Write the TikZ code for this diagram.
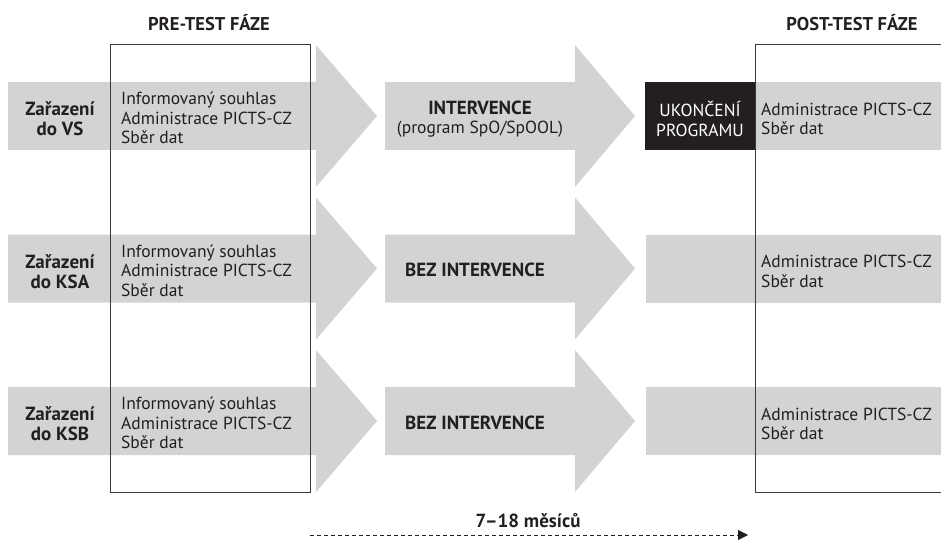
\documentclass[tikz,border=0pt]{standalone}
\usepackage{fontspec}
\setmainfont{PT Sans}
\usetikzlibrary{arrows.meta}
\definecolor{bandgray}{HTML}{D1D3D4}
\definecolor{ink}{HTML}{231F20}
\definecolor{boxline}{HTML}{3A3A3A}
\begin{document}
\begin{tikzpicture}[x=1pt,y=-1pt,
  band/.style={fill=bandgray,draw=none},
  phasebox/.style={draw=boxline,line width=1pt},
  txt/.style={text=ink,font=\fontsize{17.5}{19.5}\selectfont,inner sep=0pt},
  lbl/.style={txt,align=center,font=\fontsize{19}{20}\selectfont\bfseries},
  lefttxt/.style={txt,align=left,anchor=west},
  title/.style={txt,font=\fontsize{18.5}{20}\selectfont\bfseries}]
\useasboundingbox (0,0) rectangle (941,540);
% arrows
\foreach \c in {116,268.5,421}{
  \fill[band] (8,\c-34) -- (316,\c-34) -- (316,\c-71) -- (377,\c) -- (316,\c+71) -- (316,\c+34) -- (8,\c+34) -- cycle;
  \fill[band] (385,\c-34) -- (575,\c-34) -- (575,\c-71) -- (635,\c) -- (575,\c+71) -- (575,\c+34) -- (385,\c+34) -- cycle;
}
\fill[band] (755,82) rectangle (941,150);
\fill[band] (646,234.5) rectangle (941,302.5);
\fill[band] (646,387) rectangle (941,455);
\fill[ink] (645,82) rectangle (755,150);
% phase boxes
\draw[phasebox] (110,45) rectangle (310,492);
\draw[phasebox] (755,45) rectangle (950,492);
% titles
\node[title] (pre) at (209,23) {PRE-TEST FÁZE};
\node[title] (post) at (852,23) {POST-TEST FÁZE};
% row 1
\node[lbl] (z1) at (60,119) {Zařazení\\do VS};
\node[lefttxt] (p1) at (121,118) {Informovaný souhlas\\Administrace PICTS-CZ\\Sběr dat};
\node[txt,align=center] (i1) at (480,119) {{\fontsize{19}{20}\selectfont\bfseries INTERVENCE}\\(program SpO/SpOOL)};
\node[txt,align=center,text=white] (u1) at (700,119) {UKONČENÍ\\PROGRAMU};
\node[lefttxt] (q1) at (761,119) {Administrace PICTS-CZ\\Sběr dat};
% row 2
\node[lbl] (z2) at (60,271.5) {Zařazení\\do KSA};
\node[lefttxt] (p2) at (121,270.5) {Informovaný souhlas\\Administrace PICTS-CZ\\Sběr dat};
\node[lbl] (i2) at (475,270) {BEZ INTERVENCE};
\node[lefttxt] (q2) at (761,271.5) {Administrace PICTS-CZ\\Sběr dat};
% row 3
\node[lbl] (z3) at (60,424) {Zařazení\\do KSB};
\node[lefttxt] (p3) at (121,423) {Informovaný souhlas\\Administrace PICTS-CZ\\Sběr dat};
\node[lbl] (i3) at (475,422.5) {BEZ INTERVENCE};
\node[lefttxt] (q3) at (761,424) {Administrace PICTS-CZ\\Sběr dat};
% duration
\coordinate (ds) at (310,535);
\coordinate (de) at (748,535);
\draw[ink,line width=0.8pt,dash pattern=on 4pt off 3pt,-{Triangle[length=10pt,width=10pt]}] (ds) -- (de);
\node[lbl] (dur) at (528,521) {7–18 měsíců};
\end{tikzpicture}
\end{document}
